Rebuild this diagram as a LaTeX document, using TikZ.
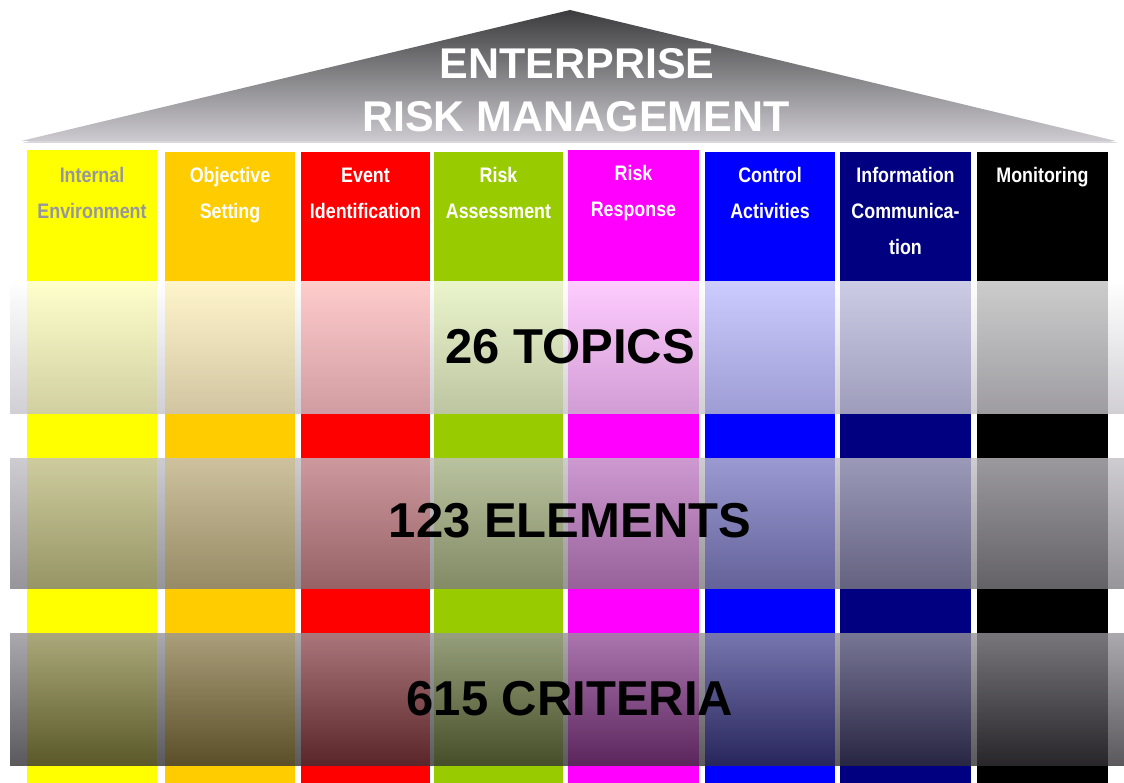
\documentclass[tikz,border=0pt]{standalone}
\usepackage{fontspec}
\setmainfont{Liberation Sans}
\newfontfamily\labelfont[FakeStretch=0.85]{Liberation Sans}
\definecolor{cyellow}{RGB}{255,255,0}
\definecolor{corange}{RGB}{255,204,0}
\definecolor{cred}{RGB}{255,0,0}
\definecolor{cgreen}{RGB}{153,204,0}
\definecolor{cmagenta}{RGB}{255,0,255}
\definecolor{cblue}{RGB}{0,0,255}
\definecolor{cnavy}{RGB}{0,0,128}
\definecolor{cblack}{RGB}{0,0,0}
\definecolor{labelgray}{RGB}{150,150,160}
\definecolor{rooftop}{RGB}{60,60,62}
\definecolor{roofbot}{RGB}{205,203,208}
\definecolor{roofshadow}{RGB}{215,215,220}
\definecolor{bonet}{RGB}{255,255,255}
\definecolor{boneb}{RGB}{198,196,202}
\definecolor{btwot}{RGB}{194,192,198}
\definecolor{btwob}{RGB}{125,123,128}
\definecolor{bthreet}{RGB}{150,148,154}
\definecolor{bthreeb}{RGB}{50,48,52}
\begin{document}
\begin{tikzpicture}[x=1pt,y=-1pt,
  pillar/.style={draw=none, inner sep=0pt, outer sep=0pt, minimum height=640pt, anchor=north west},
  collabel/.style={font={\labelfont\bfseries\fontsize{21}{36}\selectfont}, text=white, inner sep=0pt, anchor=base},
  band/.style={fill opacity=0.8, draw=none},
  bigtext/.style={font={\bfseries\fontsize{49}{55}\selectfont}, text=black, inner sep=0pt, anchor=base},
  rooftext/.style={font={\bfseries\fontsize{43}{50}\selectfont}, text=white, inner sep=0pt, anchor=base}]
\useasboundingbox (0,0) rectangle (1124,783);
\fill[white] (0,0) rectangle (1124,783);
% roof
\fill[roofshadow] (22,143) -- (570,12) -- (1118,143) -- cycle;
\shade[top color=rooftop, bottom color=roofbot] (21,141) -- (570,10) -- (1116,141) -- cycle;
\node[rooftext] (roofa) at (577,79) {ENTERPRISE};
\node[rooftext] (roofb) at (576,131.5) {RISK MANAGEMENT};
% pillars
\node[pillar, fill=cyellow, minimum width=130pt] (c1) at (27,150) {};
\node[pillar, fill=corange, minimum width=130pt] (c2) at (165,152) {};
\node[pillar, fill=cred, minimum width=129pt] (c3) at (301,152) {};
\node[pillar, fill=cgreen, minimum width=129pt] (c4) at (434,152) {};
\node[pillar, fill=cmagenta, minimum width=131pt] (c5) at (568,150) {};
\node[pillar, fill=cblue, minimum width=130pt] (c6) at (705,152) {};
\node[pillar, fill=cnavy, minimum width=131pt] (c7) at (840,152) {};
\node[pillar, fill=cblack, minimum width=131pt] (c8) at (977,152) {};
% labels
\node[collabel, text=labelgray] (l1) at (92,183) {\begin{tabular}[t]{@{}c@{}}Internal\\Environment\end{tabular}};
\node[collabel] (l2) at (230,183) {\begin{tabular}[t]{@{}c@{}}Objective\\Setting\end{tabular}};
\node[collabel] (l3) at (365.5,183) {\begin{tabular}[t]{@{}c@{}}Event\\Identification\end{tabular}};
\node[collabel] (l4) at (498.5,183) {\begin{tabular}[t]{@{}c@{}}Risk\\Assessment\end{tabular}};
\node[collabel] (l5) at (633.5,181) {\begin{tabular}[t]{@{}c@{}}Risk\\Response\end{tabular}};
\node[collabel] (l6) at (770,183) {\begin{tabular}[t]{@{}c@{}}Control\\Activities\end{tabular}};
\node[collabel] (l7) at (905.5,183) {\begin{tabular}[t]{@{}c@{}}Information\\Communica-\\tion\end{tabular}};
\node[collabel] (l8) at (1042.5,183) {\begin{tabular}[t]{@{}c@{}}Monitoring\end{tabular}};
% translucent bands
\shade[band, top color=bonet, bottom color=boneb] (10,282) rectangle (1124,413);
\shade[band, top color=btwot, bottom color=btwob] (10,458) rectangle (1124,588);
\shade[band, top color=bthreet, bottom color=bthreeb] (10,633) rectangle (1124,765);
% big texts
\node[bigtext] (t1) at (570,363) {26 TOPICS};
\node[bigtext] (t2) at (570,537) {123 ELEMENTS};
\node[bigtext] (t3) at (570,715) {615 CRITERIA};
\end{tikzpicture}
\end{document}
